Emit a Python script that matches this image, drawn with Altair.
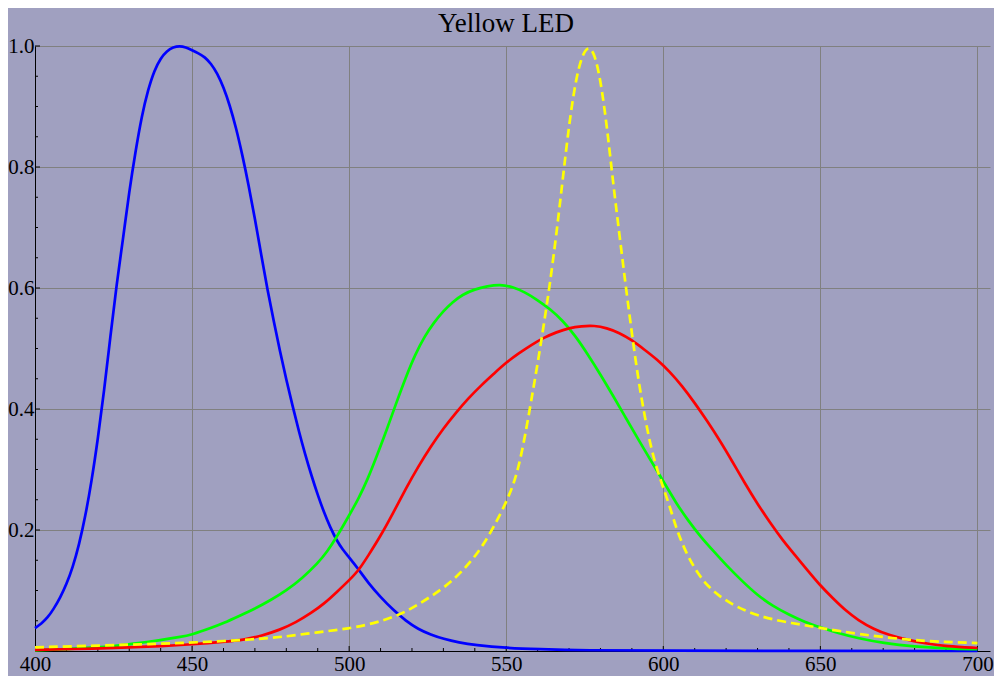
import altair as alt
import pandas as pd

title_text = "Yellow LED"

x_labels = [400, 450, 500, 550, 600, 650, 700]
y_labels = [0.2, 0.4, 0.6, 0.8, 1.0]
x_minor = [410, 420, 430, 440, 460, 470, 480, 490, 510, 520, 530, 540, 560, 570, 580, 590,
           610, 620, 630, 640, 660, 670, 680, 690]
x_major = [450, 500, 550, 600, 650, 700]
y_minor = [0.05, 0.1, 0.15, 0.25, 0.3, 0.35, 0.45, 0.5, 0.55, 0.65, 0.7, 0.75, 0.85, 0.9, 0.95]
y_major = [0.2, 0.4, 0.6, 0.8, 1.0]

blue_wl = [400, 402, 404, 406, 408, 410, 412, 414, 416, 418, 420, 422, 424, 426, 428, 430, 432,
           434, 436, 438, 440, 442, 444, 446, 448, 450, 452, 454, 456, 458, 460, 462, 464, 466,
           468, 470, 472, 474, 476, 478, 480, 482, 484, 486, 488, 490, 492, 494, 496, 498, 500,
           503, 506, 510, 514, 518, 522, 526, 530, 535, 540, 550, 560, 575, 600, 650, 700]
blue_val = [0.038, 0.045, 0.055, 0.07, 0.088, 0.11, 0.138, 0.175, 0.222, 0.28, 0.35, 0.43,
            0.52, 0.607, 0.68, 0.76, 0.826, 0.885, 0.928, 0.96, 0.98, 0.992, 0.998, 1.0, 0.998,
            0.993, 0.988, 0.982, 0.971, 0.955, 0.932, 0.902, 0.865, 0.82, 0.77, 0.715, 0.655,
            0.597, 0.545, 0.495, 0.448, 0.405, 0.363, 0.325, 0.29, 0.258, 0.229, 0.204, 0.183,
            0.167, 0.155, 0.135, 0.113, 0.089, 0.068, 0.05, 0.036, 0.027, 0.02, 0.014, 0.01,
            0.005, 0.003, 0.001, 0.0005, 0.0, 0.0]

green_wl = [400, 410, 420, 425, 430, 440, 446, 450, 456, 460, 465, 470, 475, 480, 485, 490, 493,
            496, 500, 503, 506, 509, 512, 515, 518, 521, 524, 527, 530, 533, 536, 540, 544, 548,
            552, 556, 560, 564, 568, 572, 576, 580, 584, 588, 592, 596, 600, 604, 608, 612, 616,
            620, 625, 630, 635, 640, 645, 650, 656, 662, 670, 680, 690, 700]
green_val = [0.001, 0.003, 0.006, 0.008, 0.011, 0.018, 0.023, 0.027, 0.038, 0.046, 0.058, 0.07,
             0.084, 0.1, 0.12, 0.145, 0.164, 0.188, 0.224, 0.252, 0.285, 0.325, 0.366, 0.41,
             0.452, 0.49, 0.52, 0.543, 0.562, 0.577, 0.589, 0.598, 0.603, 0.606, 0.602, 0.593,
             0.58, 0.565, 0.546, 0.521, 0.49, 0.457, 0.422, 0.386, 0.35, 0.315, 0.281, 0.245,
             0.215, 0.188, 0.165, 0.142, 0.116, 0.092, 0.074, 0.06, 0.048, 0.039, 0.029, 0.021,
             0.013, 0.007, 0.004, 0.003]

red_wl = [400, 420, 430, 440, 450, 460, 467, 472, 478, 483, 488, 492, 496, 500, 503, 506, 510,
          514, 518, 522, 526, 530, 534, 538, 542, 546, 550, 554, 558, 562, 566, 570, 574, 578,
          582, 586, 590, 594, 598, 602, 606, 610, 614, 618, 622, 626, 630, 634, 638, 642, 646,
          650, 654, 658, 662, 667, 672, 678, 684, 690, 700]
red_val = [0.002, 0.004, 0.006, 0.008, 0.011, 0.015, 0.019, 0.025, 0.035, 0.047, 0.063, 0.078,
           0.097, 0.117, 0.133, 0.157, 0.19, 0.228, 0.268, 0.305, 0.338, 0.368, 0.394, 0.418,
           0.439, 0.458, 0.477, 0.492, 0.506, 0.518, 0.527, 0.534, 0.537, 0.538, 0.534, 0.526,
           0.514, 0.498, 0.482, 0.462, 0.438, 0.41, 0.38, 0.348, 0.313, 0.277, 0.243, 0.212,
           0.183, 0.158, 0.133, 0.108, 0.087, 0.067, 0.051, 0.036, 0.026, 0.018, 0.012, 0.008,
           0.005]

yellow_wl = [400, 420, 440, 450, 470, 480, 490, 500, 508, 514, 518, 522, 526, 530, 534, 537, 540,
             543, 546, 549, 552, 554, 556, 558, 560, 562, 564, 566, 568, 570, 572, 574, 576, 578,
             580, 582, 584, 586, 588, 590, 592, 594, 596, 598, 600, 602, 604, 606, 608, 611, 614,
             618, 622, 626, 630, 635, 640, 650, 662, 678, 690, 700]
yellow_val = [0.006, 0.009, 0.012, 0.014, 0.019, 0.024, 0.031, 0.037, 0.046, 0.056, 0.065, 0.077,
              0.09, 0.104, 0.122, 0.138, 0.156, 0.178, 0.205, 0.235, 0.27, 0.305, 0.355, 0.415,
              0.475, 0.54, 0.61, 0.69, 0.78, 0.87, 0.94, 0.983, 1.0, 0.99, 0.945, 0.87, 0.775,
              0.69, 0.605, 0.525, 0.45, 0.39, 0.338, 0.3, 0.27, 0.24, 0.205, 0.178, 0.155, 0.128,
              0.108, 0.09, 0.077, 0.067, 0.059, 0.052, 0.047, 0.038, 0.028, 0.018, 0.015, 0.013]

W, H = 955, 605
FONT = "Liberation Serif"

x_enc = alt.X("wl:Q",
              scale=alt.Scale(domain=[400, 704], nice=False, zero=False),
              axis=alt.Axis(values=x_labels, format="d", title=None, grid=True,
                            gridColor="#808080", gridWidth=1, ticks=False, tickSize=0,
                            labelPadding=2, labelFont=FONT, labelFontSize=21,
                            labelFlush=False, labelOverlap=False,
                            labelColor="black", domainColor="black", domainWidth=1))
y_enc = alt.Y("v:Q",
              scale=alt.Scale(domain=[0, 1], nice=False),
              axis=alt.Axis(values=y_labels, format=".1f", title=None, grid=True,
                            gridColor="#808080", gridWidth=1, ticks=False, tickSize=0,
                            labelPadding=1, labelFont=FONT, labelFontSize=21,
                            labelFlush=False, labelOverlap=False,
                            labelColor="black", domainColor="black", domainWidth=1))


def curve(wl, val, color, dash=None):
    df = pd.DataFrame({"wl": wl, "v": val})
    kw = dict(color=color, strokeWidth=2.7, interpolate="basis")
    if dash:
        kw["strokeDash"] = dash
    return alt.Chart(df).mark_line(**kw).encode(x=x_enc, y=y_enc)


def xticks(vals, length):
    df = pd.DataFrame({"wl": vals})
    return alt.Chart(df).mark_rule(color="black", strokeWidth=1).encode(
        x=x_enc, y=alt.value(H), y2=alt.value(H - length))


def yticks(vals, length):
    df = pd.DataFrame({"v": vals})
    return alt.Chart(df).mark_rule(color="black", strokeWidth=1).encode(
        y=y_enc, x=alt.value(0), x2=alt.value(length))


title_mark = alt.Chart(pd.DataFrame({"t": [title_text]})).mark_text(
    font=FONT, fontSize=27, color="black", align="center", baseline="alphabetic"
).encode(text="t:N", x=alt.value(471), y=alt.value(-14))

chart = alt.layer(
    xticks(x_minor, 3),
    xticks(x_major, 5),
    yticks(y_minor, 3),
    yticks(y_major, 5),
    curve(blue_wl, blue_val, "#0000FF"),
    curve(green_wl, green_val, "#00FF00"),
    curve(red_wl, red_val, "#FF0000"),
    curve(yellow_wl, yellow_val, "#FFFF00", dash=[9, 5]),
    title_mark,
).properties(
    width=W, height=H,
    padding={"left": 27, "top": 38, "right": 4, "bottom": 25},
    autosize="none",
    background="#A0A0C0",
).configure_view(stroke=None)

chart.save("out.html", embed_options={"renderer": "svg", "actions": False})
